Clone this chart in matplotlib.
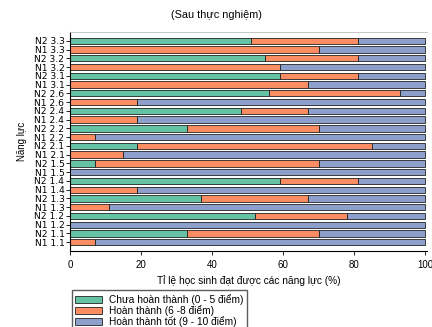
import numpy as np
import matplotlib.pyplot as plt

plt.rcParams["font.family"] = ["Liberation Sans", "DejaVu Sans"]

labels = ["N1 1.1", "N2 1.1", "N1 1.2", "N2 1.2", "N1 1.3", "N2 1.3",
          "N1 1.4", "N2 1.4", "N1 1.5", "N2 1.5", "N1 2.1", "N2 2.1",
          "N1 2.2", "N2 2.2", "N1 2.4", "N2 2.4", "N1 2.6", "N2 2.6",
          "N1 3.1", "N2 3.1", "N1 3.2", "N2 3.2", "N1 3.3", "N2 3.3"]
chua = [0, 33, 0, 52, 0, 37, 0, 59, 0, 7, 0, 19,
        0, 33, 0, 48, 0, 56, 0, 59, 0, 55, 0, 51]
hoan = [7, 37, 0, 26, 11, 30, 19, 22, 0, 63, 15, 66,
        7, 37, 19, 19, 19, 37, 67, 22, 59, 26, 70, 30]
tot = [93, 30, 100, 22, 89, 33, 81, 19, 100, 30, 85, 15,
       93, 30, 81, 33, 81, 7, 33, 19, 41, 19, 30, 19]
series = ["Chưa hoàn thành (0 - 5 điểm)", "Hoàn thành (6 -8 điểm)",
          "Hoàn thành tốt (9 - 10 điểm)"]
colors = ["#66c2a5", "#fc8d62", "#8da0cb"]

fig = plt.figure(figsize=(4.32, 3.27), dpi=100)
ax = fig.add_axes([70 / 432, 1 - 251 / 327, 357 / 432, 219 / 327])

y = np.arange(len(labels))
left = np.zeros(len(labels))
for vals, name, c in zip([chua, hoan, tot], series, colors):
    vals = np.array(vals)
    ax.barh(y, vals, left=left, height=0.72, color=c, edgecolor="#222222",
            linewidth=0.6, label=name)
    left += vals

ax.set_xlim(0, 100.5)
ax.set_ylim(-1, 24)
ax.set_yticks(y)
ax.set_yticklabels(labels, fontsize=6.6, family="DejaVu Sans")
ax.set_xticks([0, 20, 40, 60, 80, 100])
ax.tick_params(axis="x", labelsize=7, length=3, width=0.6)
ax.tick_params(axis="y", length=3, width=0.6, pad=1)
ax.spines["right"].set_visible(False)
ax.spines["top"].set_color("#bbbbbb")
ax.spines["top"].set_linewidth(0.6)
for s in ["left", "bottom"]:
    ax.spines[s].set_linewidth(0.8)

ax.set_xlabel("Tỉ lệ học sinh đạt được các năng lực (%)", fontsize=7.3, labelpad=4)
ax.set_ylabel("Năng lực", fontsize=7, labelpad=5)
fig.text(0.5, 1 - 15 / 327, "(Sau thực nghiệm)", ha="center", va="center", fontsize=7.8)

ax.legend(loc="upper left", bbox_to_anchor=(0.005, -0.18), fontsize=7.3, frameon=True,
          fancybox=False, edgecolor="#333333", borderpad=0.35, labelspacing=0.0,
          handlelength=2.6, handleheight=0.7, handletextpad=0.7, borderaxespad=0)

fig.savefig("out.png", dpi=100)
